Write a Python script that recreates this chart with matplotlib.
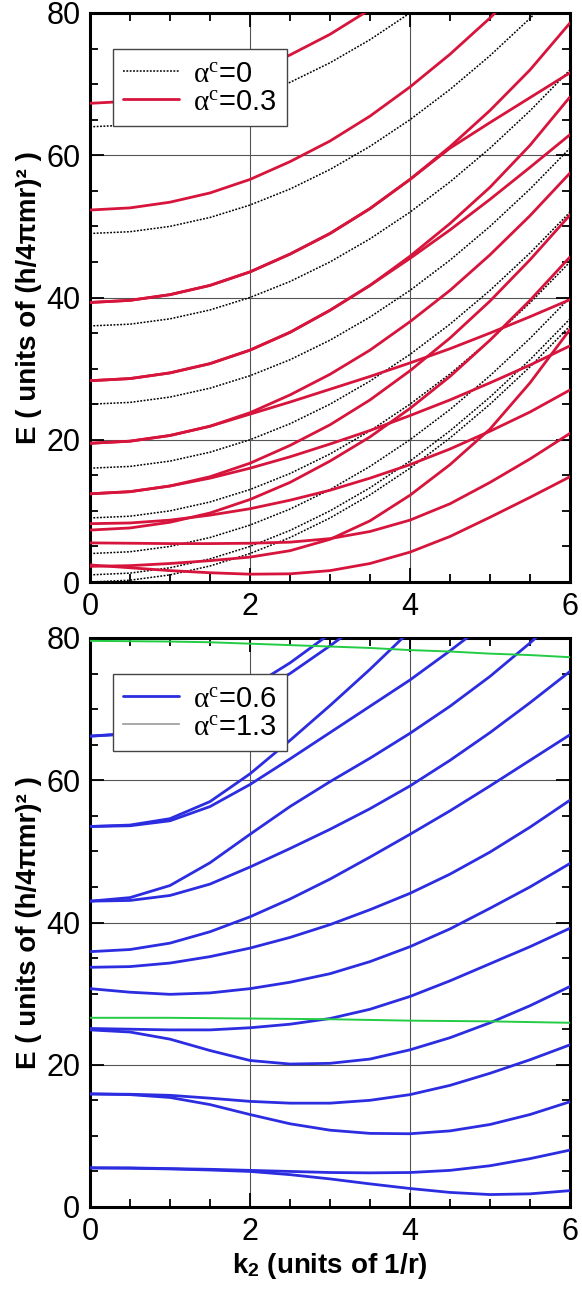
import numpy as np
import matplotlib
matplotlib.use("Agg")
import matplotlib.pyplot as plt
from matplotlib.ticker import MultipleLocator

nan = np.nan

# ---------------- data ----------------
k2 = [0.0, 0.5, 1.0, 1.5, 2.0, 2.5, 3.0, 3.5, 4.0, 4.5, 5.0, 5.5, 6.0]
x_ticks = [0, 2, 4, 6]
y_ticks = [0, 20, 40, 60, 80]

# top panel, alpha^c = 0 (dotted)
e0_n0 = [0, 0.25, 1, 2.25, 4, 6.25, 9, 12.25, 16, 20.25, 25, 30.25, 36]
e0_n1 = [1, 1.25, 2, 3.25, 5, 7.25, 10, 13.25, 17, 21.25, 26, 31.25, 37]
e0_n2 = [4, 4.25, 5, 6.25, 8, 10.25, 13, 16.25, 20, 24.25, 29, 34.25, 40]
e0_n3 = [9, 9.25, 10, 11.25, 13, 15.25, 18, 21.25, 25, 29.25, 34, 39.25, 45]
e0_n4 = [16, 16.25, 17, 18.25, 20, 22.25, 25, 28.25, 32, 36.25, 41, 46.25, 52]
e0_n5 = [25, 25.25, 26, 27.25, 29, 31.25, 34, 37.25, 41, 45.25, 50, 55.25, 61]
e0_n6 = [36, 36.25, 37, 38.25, 40, 42.25, 45, 48.25, 52, 56.25, 61, 66.25, 72]
e0_n7 = [49, 49.25, 50, 51.25, 53, 55.25, 58, 61.25, 65, 69.25, 74, 79.25, 85]
e0_n8 = [64, 64.25, 65, 66.25, 68, 70.25, 73, 76.25, 80, 84.25, nan, nan, nan]

# top panel, alpha^c = 0.3 (red)
r_a8 = [67.3, 67.6, 68.4, 69.7, 71.6, 74.1, 77.0, 80.5, 84.6, nan, nan, nan, nan]
r_a7 = [52.3, 52.6, 53.4, 54.7, 56.6, 59.1, 62.0, 65.5, 69.6, 74.2, 79.3, 85.0, nan]
r_a6 = [39.3, 39.6, 40.4, 41.7, 43.6, 46.1, 49.0, 52.5, 56.6, 61.2, 66.3, 72.0, 78.6]
r_s6 = [39.3, 39.6, 40.4, 41.7, 43.6, 46.1, 49.0, 52.5, 56.6, 61.0, 64.6, 68.1, 71.6]
r_a5 = [28.3, 28.6, 29.4, 30.7, 32.6, 35.1, 38.2, 41.7, 45.8, 50.4, 55.5, 61.4, 68.2]
r_s5 = [28.3, 28.6, 29.4, 30.7, 32.6, 35.1, 38.2, 41.7, 45.5, 49.5, 53.8, 58.3, 62.9]
r_a4 = [19.5, 19.8, 20.6, 21.9, 23.8, 26.3, 29.2, 32.6, 36.6, 41.0, 46.0, 51.5, 57.5]
r_s4 = [19.5, 19.8, 20.6, 21.9, 23.6, 25.3, 27.1, 28.9, 30.8, 32.8, 35.0, 37.3, 39.7]
r_a3 = [12.4, 12.7, 13.5, 14.8, 16.7, 19.2, 22.1, 25.6, 29.7, 34.3, 39.5, 45.3, 51.6]
r_s3 = [12.4, 12.7, 13.5, 14.6, 16.0, 17.6, 19.4, 21.3, 23.4, 25.6, 28.0, 30.5, 33.2]
r_a2 = [7.3, 7.6, 8.4, 9.7, 11.6, 14.0, 17.0, 20.4, 24.4, 28.9, 34.0, 39.6, 45.7]
r_s2 = [8.2, 8.3, 8.7, 9.4, 10.3, 11.5, 12.9, 14.6, 16.5, 18.7, 21.2, 23.9, 27.0]
r_s1 = [5.5, 5.45, 5.4, 5.4, 5.45, 5.6, 6.1, 7.1, 8.7, 11.0, 14.0, 17.3, 20.9]
r_a0 = [2.2, 2.3, 2.6, 3.0, 3.5, 4.4, 6.0, 8.6, 12.2, 16.5, 21.5, 28.0, 35.5]
r_s0 = [2.4, 2.0, 1.6, 1.3, 1.1, 1.15, 1.6, 2.6, 4.2, 6.4, 9.1, 11.9, 14.8]

# bottom panel, alpha^c = 0.6 (blue)
b_l1 = [5.5, 5.45, 5.35, 5.2, 5.0, 4.55, 3.95, 3.25, 2.6, 2.05, 1.75, 1.85, 2.3]
b_l2 = [5.5, 5.5, 5.4, 5.3, 5.15, 5.0, 4.85, 4.8, 4.85, 5.15, 5.8, 6.8, 8.0]
b_m1 = [15.9, 15.85, 15.7, 15.3, 14.85, 14.6, 14.6, 15.0, 15.8, 17.1, 18.8, 20.7, 22.8]
b_m2 = [15.9, 15.8, 15.4, 14.4, 13.0, 11.7, 10.8, 10.35, 10.3, 10.7, 11.6, 13.0, 14.8]
b_n1 = [24.9, 24.6, 23.6, 22.0, 20.6, 20.1, 20.2, 20.8, 22.1, 23.8, 25.9, 28.3, 31.0]
b_n2 = [25.1, 25.0, 24.9, 24.9, 25.2, 25.7, 26.5, 27.8, 29.6, 31.8, 34.2, 36.6, 39.2]
b_o = [30.7, 30.2, 29.9, 30.1, 30.7, 31.6, 32.8, 34.5, 36.6, 39.1, 42.0, 45.0, 48.3]
b_p = [33.7, 33.8, 34.3, 35.2, 36.4, 37.9, 39.7, 41.8, 44.1, 46.8, 49.9, 53.4, 57.2]
b_q = [35.9, 36.2, 37.1, 38.7, 40.8, 43.3, 46.1, 49.2, 52.4, 55.7, 59.2, 62.8, 66.4]
b_c2 = [43.0, 43.1, 43.8, 45.4, 47.8, 50.4, 53.1, 56.0, 59.2, 62.8, 66.7, 70.9, 75.3]
b_c1 = [43.0, 43.5, 45.2, 48.4, 52.4, 56.3, 59.8, 63.1, 66.6, 70.4, 74.6, 79.3, 84.3]
b_b1 = [53.5, 53.6, 54.3, 56.3, 59.4, 63.0, 66.7, 70.4, 74.1, 78.2, 82.5, nan, nan]
b_a1 = [53.5, 53.7, 54.6, 57.0, 60.9, 65.6, 70.5, 75.6, 81.0, nan, nan, nan, nan]
b_ua = [66.2, 66.5, 67.5, 69.3, 71.8, 75.0, 78.9, 83.0, nan, nan, nan, nan, nan]
b_ub = [66.2, 66.6, 68.0, 70.2, 73.0, 76.5, 80.6, nan, nan, nan, nan, nan, nan]

# bottom panel, alpha^c = 1.3 (green)
g_1 = [79.6, 79.55, 79.5, 79.4, 79.2, 79.0, 78.8, 78.6, 78.3, 78.1, 77.8, 77.6, 77.3]
g_2 = [26.6, 26.6, 26.6, 26.55, 26.5, 26.45, 26.4, 26.3, 26.2, 26.15, 26.1, 26.0, 25.9]

top_black = [e0_n0, e0_n1, e0_n2, e0_n3, e0_n4, e0_n5, e0_n6, e0_n7, e0_n8]
top_red = [r_a8, r_a7, r_a6, r_s6, r_a5, r_s5, r_a4, r_s4, r_a3, r_s3,
           r_a2, r_s2, r_s1, r_a0, r_s0]
bot_blue = [b_l1, b_l2, b_m1, b_m2, b_n1, b_n2, b_o, b_p, b_q, b_c2, b_c1,
            b_b1, b_a1, b_ua, b_ub]
bot_green = [g_1, g_2]

# ---------------- style ----------------
plt.rcParams['font.family'] = ['Liberation Sans', 'DejaVu Sans']
plt.rcParams['mathtext.fontset'] = 'custom'
plt.rcParams['mathtext.rm'] = 'Liberation Serif'
plt.rcParams['mathtext.it'] = 'Liberation Serif:italic'
plt.rcParams['mathtext.sf'] = 'Liberation Sans:bold'

RED = '#d6143c'
BLUE = '#2c2ce0'
GREEN = '#22cc44'

fig = plt.figure(figsize=(5.82, 12.89), dpi=100)
W, H = 582.0, 1289.0
ax_top = fig.add_axes([90 / W, (H - 582) / H, 480 / W, 569 / H])
ax_bot = fig.add_axes([90 / W, (H - 1207) / H, 480 / W, 569 / H])

k = np.array(k2)

for i, e in enumerate(top_black):
    ax_top.plot(k, e, color='black', lw=1.1, ls=(0, (1.2, 1.0)),
                label=r'$\mathrm{\alpha}^{\mathrm{c}}$=0' if i == 0 else None, zorder=2)
for i, e in enumerate(top_red):
    ax_top.plot(k, e, color=RED, lw=2.0, solid_capstyle='round', solid_joinstyle='round',
                label=r'$\mathrm{\alpha}^{\mathrm{c}}$=0.3' if i == 0 else None, zorder=3)

for i, e in enumerate(bot_blue):
    ax_bot.plot(k, e, color=BLUE, lw=2.0, solid_capstyle='round', solid_joinstyle='round',
                label=r'$\mathrm{\alpha}^{\mathrm{c}}$=0.6' if i == 0 else None, zorder=3)
for i, e in enumerate(bot_green):
    ax_bot.plot(k, e, color=GREEN, lw=1.4,
                label=r'$\mathrm{\alpha}^{\mathrm{c}}$=1.3' if i == 0 else None, zorder=4)

ylabel = 'E ( units of (h/4\u03c0mr)\u00b2 )'
for ax in (ax_top, ax_bot):
    ax.set_xlim(0, 6)
    ax.set_ylim(0, 80)
    ax.set_xticks(x_ticks)
    ax.set_yticks(y_ticks)
    ax.xaxis.set_minor_locator(MultipleLocator(0.5))
    ax.yaxis.set_minor_locator(MultipleLocator(5))
    ax.tick_params(which='both', direction='in', top=True, right=True,
                   labelsize=22, width=1.3)
    ax.tick_params(which='major', length=10, pad=7)
    ax.tick_params(which='minor', length=6)
    ax.grid(True, which='major', color='#555555', lw=0.8)
    ax.set_axisbelow(True)
    for s in ax.spines.values():
        s.set_linewidth(2.2)
    ax.set_ylabel(ylabel, fontsize=20, fontweight='bold')
    ax.yaxis.set_label_coords(-0.10, 0.5)
    leg = ax.legend(loc='upper left', bbox_to_anchor=(0.048, 0.936),
                    borderaxespad=0, fontsize=21, handlelength=1.9,
                    handletextpad=0.5, borderpad=0.35, labelspacing=0.0,
                    fancybox=False, framealpha=1, edgecolor='#444444')
    leg.get_frame().set_linewidth(1.0)
    leg.set_zorder(10)

# legend swatch for alpha^c=1.3 is grey in the original
ax_bot.get_legend().get_lines()[1].set_color('#999999')
ax_bot.get_legend().get_lines()[1].set_linewidth(1.2)

ax_bot.set_xlabel(r'k$_{\mathsf{2}}$ (units of 1/r)', fontsize=20, fontweight='bold')
ax_bot.xaxis.set_label_coords(0.5, -0.078)

fig.savefig('out.png', dpi=100)
